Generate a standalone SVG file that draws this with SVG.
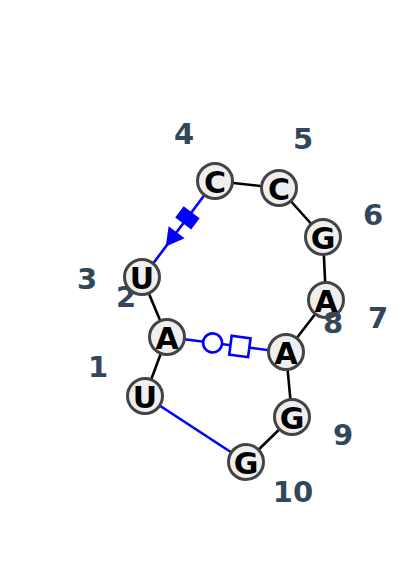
<svg xmlns="http://www.w3.org/2000/svg" width="400" height="576" viewBox="0 0 400 576">
<style>
.bb{stroke:#000;stroke-width:2.6;fill:none}
.bp{stroke:#0000ff;stroke-width:2.6;fill:none}
.mk{stroke:#0000ff;stroke-width:2.6;fill:#fff}
.mf{fill:#0000ff;stroke:none}
.nc{fill:#efefef;stroke:#444;stroke-width:3}
.nt{font-family:"DejaVu Sans",sans-serif;font-weight:bold;font-size:30px;fill:#000;text-anchor:middle;dominant-baseline:central}
.lb{font-family:"DejaVu Sans",sans-serif;font-weight:bold;font-size:29px;fill:#34475a;text-anchor:middle;dominant-baseline:central}
</style>
<rect width="400" height="576" fill="#fff"/>
<g id="connectors">
<line class="bb" x1="145" y1="396" x2="167" y2="337"/>
<line class="bb" x1="167" y1="337" x2="142" y2="277"/>
<line class="bb" x1="215" y1="181" x2="279" y2="188"/>
<line class="bb" x1="279" y1="188" x2="323" y2="237"/>
<line class="bb" x1="323" y1="237" x2="326" y2="300"/>
<line class="bb" x1="326" y1="300" x2="286" y2="352"/>
<line class="bb" x1="286" y1="352" x2="292" y2="417"/>
<line class="bb" x1="292" y1="417" x2="246" y2="462"/>
<line class="bp" x1="246" y1="462" x2="145" y2="396"/>
<g transform="translate(215,181) rotate(126.87)">
<line class="bp" x1="0" y1="0" x2="120" y2="0"/>
<rect class="mf" x="39" y="-10" width="14" height="20"/>
<polygon class="mf" points="64,-10 64,10 82,0"/>
</g>
<g transform="translate(167,337) rotate(7.4)">
<line class="bp" x1="0" y1="0" x2="120" y2="0"/>
<circle class="mk" cx="46" cy="0" r="9.5"/>
<rect class="mk" x="64" y="-9.5" width="19" height="19"/>
</g>
</g>
<g id="n1"><circle class="nc" cx="145" cy="396" r="17.5"/><text class="nt" x="145" y="397">U</text><text class="lb" x="98" y="367">1</text></g>
<g id="n2"><circle class="nc" cx="167" cy="337" r="17.5"/><text class="nt" x="167" y="338">A</text><text class="lb" x="126" y="297">2</text></g>
<g id="n3"><circle class="nc" cx="142" cy="277" r="17.5"/><text class="nt" x="142" y="278">U</text><text class="lb" x="87" y="279">3</text></g>
<g id="n4"><circle class="nc" cx="215" cy="181" r="17.5"/><text class="nt" x="215" y="182">C</text><text class="lb" x="184" y="134">4</text></g>
<g id="n5"><circle class="nc" cx="279" cy="188" r="17.5"/><text class="nt" x="279" y="189">C</text><text class="lb" x="303" y="139">5</text></g>
<g id="n6"><circle class="nc" cx="323" cy="237" r="17.5"/><text class="nt" x="323" y="238">G</text><text class="lb" x="373" y="215">6</text></g>
<g id="n7"><circle class="nc" cx="326" cy="300" r="17.5"/><text class="nt" x="326" y="301">A</text><text class="lb" x="378" y="318">7</text></g>
<g id="n8"><circle class="nc" cx="286" cy="352" r="17.5"/><text class="nt" x="286" y="353">A</text><text class="lb" x="333" y="323">8</text></g>
<g id="n9"><circle class="nc" cx="292" cy="417" r="17.5"/><text class="nt" x="292" y="418">G</text><text class="lb" x="343" y="435">9</text></g>
<g id="n10"><circle class="nc" cx="246" cy="462" r="17.5"/><text class="nt" x="246" y="463">G</text><text class="lb" x="293" y="492">10</text></g>
</svg>
